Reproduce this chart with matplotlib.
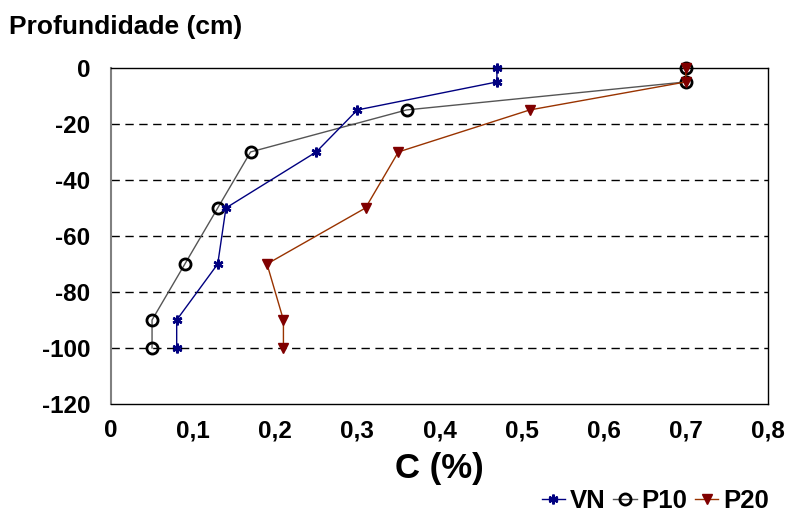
import matplotlib
matplotlib.use('Agg')
import matplotlib.pyplot as plt
from matplotlib.ticker import FuncFormatter

plt.rcParams['font.family'] = ['Liberation Sans', 'DejaVu Sans']
plt.rcParams['font.weight'] = 'bold'
plt.rcParams['axes.unicode_minus'] = False

depth = [0, -5, -15, -30, -50, -70, -90, -100]
vn = [0.47, 0.47, 0.30, 0.25, 0.14, 0.13, 0.08, 0.08]
p10 = [0.70, 0.70, 0.36, 0.17, 0.13, 0.09, 0.05, 0.05]
p20 = [0.70, 0.70, 0.51, 0.35, 0.31, 0.19, 0.21, 0.21]

fig = plt.figure(figsize=(7.9, 5.17), dpi=100)
ax = fig.add_axes([0.1405, 0.2186, 0.8315, 0.65])

for y in [-20, -40, -60, -80, -100]:
    ax.axhline(y, color='black', linestyle=(0, (6, 4)), linewidth=1, zorder=1)

ax.plot(vn, depth, color='#000080', linewidth=1, marker=(6, 2, 0), markersize=7,
        markeredgewidth=1.8, markeredgecolor='#000080', label='VN', zorder=3,
        clip_on=False)
ax.plot(p10, depth, color='#555555', linewidth=1, marker='o', markersize=8,
        markerfacecolor='none', markeredgecolor='black', markeredgewidth=2,
        label='P10', zorder=2, clip_on=False)
ax.plot(p20, depth, color='#993300', linewidth=1, marker='v', markersize=7,
        markerfacecolor='#800000', markeredgecolor='#800000', label='P20', zorder=4,
        clip_on=False)

ax.set_xlim(0, 0.8)
ax.set_ylim(-120, 0)
ax.set_xticks([0, 0.1, 0.2, 0.3, 0.4, 0.5, 0.6, 0.7, 0.8])
ax.set_yticks([0, -20, -40, -60, -80, -100, -120])
ax.xaxis.set_major_formatter(FuncFormatter(lambda v, p: ('%g' % round(v, 1)).replace('.', ',')))
ax.tick_params(length=0, labelsize=17.5)
ax.tick_params(axis='x', pad=11)
ax.tick_params(axis='y', pad=15)
for s in ax.spines.values():
    s.set_color('black')
    s.set_linewidth(1)
ax.spines['left'].set_color('#808080')
ax.spines['left'].set_linewidth(1.5)

ax.set_xlabel('C (%)', fontsize=25, fontweight='bold', labelpad=7)
fig.text(0.012, 0.947, 'Profundidade (cm)', fontsize=19, fontweight='bold', va='center')

fig.legend(loc='center right', bbox_to_anchor=(0.99, 0.03), ncol=3, frameon=False,
           fontsize=18.5, handlelength=0.9, handletextpad=0.2, columnspacing=0.3,
           borderpad=0)

fig.savefig('out.png', dpi=100)
